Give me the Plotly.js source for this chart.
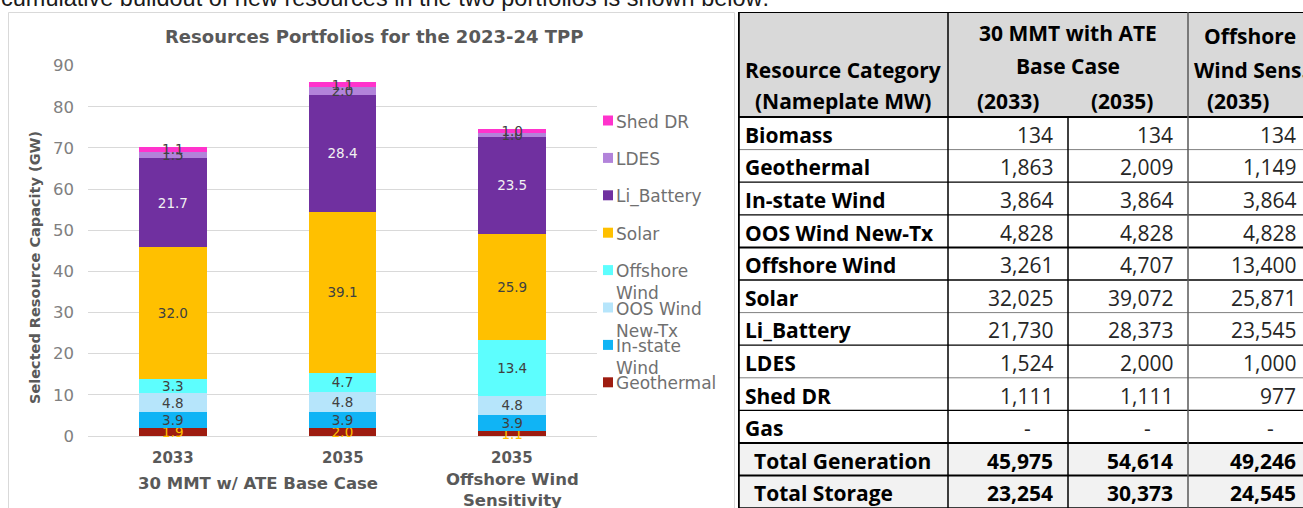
<!DOCTYPE html>
<html><head><meta charset="utf-8">
<script src="https://cdn.plot.ly/plotly-3.0.1.min.js"></script>
<style>html,body{margin:0;padding:0;background:#fff;overflow:hidden}#chart{width:1303px;height:508px}</style>
</head><body><div id="chart"></div>
<script>
// ---------------- DATA ----------------
const introText = "cumulative buildout of new resources in the two portfolios is shown below:";
const chartTitle = "Resources Portfolios for the 2023-24 TPP";
const yAxisTitle = "Selected Resource Capacity (GW)";
const scenarioYears = ["2033", "2035", "2035"];
const scenarioGroups = ["30 MMT w/ ATE Base Case", "Offshore Wind<br>Sensitivity"];
const yTickValues = [0, 10, 20, 30, 40, 50, 60, 70, 80, 90];

const resourceCategories = ["Biomass", "Geothermal", "In-state Wind", "OOS Wind New-Tx", "Offshore Wind",
  "Solar", "Li_Battery", "LDES", "Shed DR", "Gas", "Total Generation", "Total Storage"];
const mw2033Base = [134, 1863, 3864, 4828, 3261, 32025, 21730, 1524, 1111, null, 45975, 23254];
const mw2035Base = [134, 2009, 3864, 4828, 4707, 39072, 28373, 2000, 1111, null, 54614, 30373];
const mw2035Osw  = [134, 1149, 3864, 4828, 13400, 25871, 23545, 1000, 977, null, 49246, 24545];

const chartSeries = ["Geothermal", "In-state Wind", "OOS Wind New-Tx", "Offshore Wind", "Solar", "Li_Battery", "LDES", "Shed DR"];
const legendLabels = ["Geothermal", "In-state<br>Wind", "OOS Wind<br>New-Tx", "Offshore<br>Wind", "Solar", "Li_Battery", "LDES", "Shed DR"];

const headerCol1 = ["Resource Category", "(Nameplate MW)"];
const headerGroup = ["30 MMT with ATE", "Base Case"];
const headerYears = ["(2033)", "(2035)"];
const headerCol4 = ["Offshore", "Wind Sens.", "(2035)"];

// ---------------- STYLE ----------------
const W = 1303, H = 508;
const px = p => p / W;
const py = p => 1 - p / H;
const chartFont = "DejaVu Sans";
const tableFont = "Open Sans";
const seriesColors = ["#9e1c10", "#10b4f5", "#b6e5fb", "#5dfefe", "#ffc000", "#7030a0", "#b283da", "#ff33cc"];
const labelColors = ["#ffc000", "#404040", "#404040", "#404040", "#404040", "#f2f2f2", "#404040", "#404040"];

// ---------------- CHART ----------------
const traces = chartSeries.map((s, i) => {
  const k = resourceCategories.indexOf(s);
  return {
    type: "bar", xaxis: "x", yaxis: "y",
    x: [0, 1, 2],
    y: [mw2033Base[k], mw2035Base[k], mw2035Osw[k]].map(v => v / 1000),
    width: 0.4,
    marker: {color: seriesColors[i], line: {width: 0}},
    texttemplate: "%{y:.1f}", textposition: "inside", insidetextanchor: "middle", textangle: 0,
    textfont: {family: chartFont, size: 13.5, color: labelColors[i]},
    cliponaxis: false, hoverinfo: "skip", showlegend: false, name: s
  };
});

const annotations = [];
const shapes = [];

// chart frame
shapes.push({type: "rect", xref: "paper", yref: "paper", x0: px(8.5), x1: px(734.5), y0: py(530), y1: py(12.5),
  line: {color: "#d9d9d9", width: 1}, fillcolor: "rgba(0,0,0,0)", layer: "below"});

annotations.push({xref: "paper", yref: "paper", x: px(-1), y: py(-2.5), xanchor: "left", yanchor: "middle",
  text: introText, showarrow: false, font: {family: "Liberation Sans", size: 23.5, color: "#1a1a1a"}});
annotations.push({xref: "paper", yref: "paper", x: px(374), y: py(37), xanchor: "center", yanchor: "middle",
  text: chartTitle, showarrow: false, font: {family: chartFont, size: 18, weight: "bold", color: "#595959"}});
annotations.push({xref: "paper", yref: "paper", x: px(35), y: py(268), xanchor: "center", yanchor: "middle", textangle: -90,
  text: yAxisTitle, showarrow: false, font: {family: chartFont, size: 14.5, weight: "bold", color: "#595959"}});

scenarioYears.forEach((t, i) => annotations.push({xref: "x", yref: "paper", x: i, y: py(458), xanchor: "center", yanchor: "middle",
  text: t, showarrow: false, font: {family: chartFont, size: 15, weight: "bold", color: "#595959"}}));
annotations.push({xref: "x", yref: "paper", x: 0.5, y: py(483), xanchor: "center", yanchor: "middle",
  text: scenarioGroups[0], showarrow: false, font: {family: chartFont, size: 16.5, weight: "bold", color: "#595959"}});
annotations.push({xref: "x", yref: "paper", x: 2, y: py(468), xanchor: "center", yanchor: "top",
  text: scenarioGroups[1], showarrow: false, font: {family: chartFont, size: 16.5, weight: "bold", color: "#595959"}});

// legend (top to bottom = reverse stack order)
for (let j = 0; j < chartSeries.length; j++) {
  const i = chartSeries.length - 1 - j;
  const yc = 120.5 + j * 37.4;
  shapes.push({type: "rect", xref: "paper", yref: "paper", x0: px(603), x1: px(613), y0: py(yc + 5), y1: py(yc - 5),
    line: {width: 0}, fillcolor: seriesColors[i]});
  annotations.push({xref: "paper", yref: "paper", x: px(614), y: py(yc - 11), xanchor: "left", yanchor: "top", align: "left",
    text: legendLabels[i], showarrow: false, font: {family: chartFont, size: 17, color: "#707070"}});
}

// ---------------- TABLE ----------------
const colEdges = [0, 210, 330, 450, 573];
const headerH = 105, rowH = 32.6;
const rowTop = r => headerH + r * rowH;
const tableEnd = rowTop(resourceCategories.length);

function tline(x0, y0, x1, y1, color, width) {
  shapes.push({type: "line", xref: "x2", yref: "y2", x0, y0, x1, y1, line: {color, width}});
}
shapes.push({type: "rect", xref: "x2", yref: "y2", x0: 0, x1: 573, y0: 0, y1: headerH, line: {width: 0}, fillcolor: "#d9d9d9", layer: "below"});
shapes.push({type: "rect", xref: "x2", yref: "y2", x0: 0, x1: 573, y0: rowTop(10), y1: tableEnd, line: {width: 0}, fillcolor: "#f2f2f2", layer: "below"});

const hStyles = [["#000", 2], ["#000", 2], ["#808080", 1], ["#000", 1.3], ["#000", 1.3], ["#000", 2], ["#000", 1.3],
  ["#808080", 1], ["#000", 1.3], ["#808080", 1], ["#000", 1.3], ["#000", 2], ["#000", 2], ["#000", 2]];
const hPos = [0, headerH].concat(resourceCategories.map((_, r) => rowTop(r + 1)));
hPos.forEach((y, k) => tline(0, y, 573, y, hStyles[k][0], hStyles[k][1]));
tline(0.8, 0, 0.8, tableEnd, "#000", 2);
tline(colEdges[1], 0, colEdges[1], tableEnd, "#000", 1.5);
tline(colEdges[2], headerH, colEdges[2], tableEnd, "#000", 1.5);
tline(colEdges[3], 0, colEdges[3], tableEnd, "#595959", 1.5);

function ttext(x, y, text, xanchor, bold, color) {
  annotations.push({xref: "x2", yref: "y2", x, y, xanchor, yanchor: "middle", text, showarrow: false,
    font: {family: tableFont, size: 21, weight: bold ? "bold" : "normal", color: color || "#000"}});
}
// header
ttext(105, 58, headerCol1[0], "center", true);
ttext(105, 89, headerCol1[1], "center", true);
ttext(330, 21, headerGroup[0], "center", true);
ttext(330, 54, headerGroup[1], "center", true);
ttext(270, 89, headerYears[0], "center", true);
ttext(384, 89, headerYears[1], "center", true);
ttext(512, 24, headerCol4[0], "center", true);
ttext(512, 58, headerCol4[1], "center", true);
ttext(500, 89, headerCol4[2], "center", true);

const valueCols = [mw2033Base, mw2035Base, mw2035Osw];
resourceCategories.forEach((cat, r) => {
  const yc = rowTop(r) + rowH / 2 + 1.5;
  const isTotal = r >= 10;
  ttext(isTotal ? 14 : 5, yc, cat, "left", true);
  valueCols.forEach((col, c) => {
    const right = colEdges[c + 2];
    const v = col[r];
    if (v === null) ttext(right - 41, yc, "-", "center", false, "#262626");
    else ttext(right - 13, yc, v.toLocaleString("en-US"), "right", isTotal, isTotal ? "#000" : "#262626");
  });
});

const layout = {
  width: W, height: H, margin: {l: 0, r: 0, t: 0, b: 0}, paper_bgcolor: "#fff", plot_bgcolor: "rgba(0,0,0,0)",
  barmode: "stack", showlegend: false,
  uniformtext: {mode: "show", minsize: 13.5},
  xaxis: {domain: [px(88), px(597)], range: [-0.5, 2.5], showgrid: false, zeroline: false, showline: false,
    showticklabels: false, ticks: "", fixedrange: true},
  yaxis: {domain: [py(436), py(65.7)], range: [0, 90], tickvals: yTickValues, showgrid: true, gridcolor: "#d9d9d9", gridwidth: 1,
    zeroline: true, zerolinecolor: "#d9d9d9", zerolinewidth: 1, showline: false, ticks: "", ticklabelstandoff: 13,
    tickfont: {family: chartFont, size: 16.5, color: "#808080"}, fixedrange: true},
  xaxis2: {domain: [px(738), 1], range: [0, 565], anchor: "y2", visible: false, fixedrange: true},
  yaxis2: {domain: [0, py(12)], range: [496, 0], anchor: "x2", visible: false, fixedrange: true},
  shapes, annotations
};
Plotly.newPlot("chart", traces, layout, {staticPlot: true, displayModeBar: false});
</script></body></html>
